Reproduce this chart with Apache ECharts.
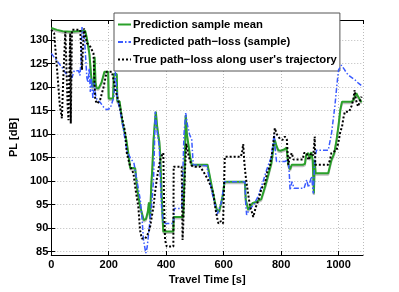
<!DOCTYPE html>
<html><head><meta charset="utf-8">
<script src="https://cdn.jsdelivr.net/npm/echarts@6/dist/echarts.min.js"></script>
<style>html,body{margin:0;padding:0;background:#fff}#c{width:399px;height:292px}</style>
</head><body><div id="c"></div>
<script>
const seriesNames = ["Prediction sample mean", "Predicted path\u2212loss (sample)", "True path\u2212loss along user's trajectory"];
const xTicks = [0, 200, 400, 600, 800, 1000];
const yTicks = [85, 90, 95, 100, 105, 110, 115, 120, 125, 130];

const meanPL = [[0,132.6],[20,132.2],[40,131.9],[70,131.8],[90,131.9],[118,132],[122,131],[128,129],[133,127],[138,123],[143,120],[148,120.5],[151,126.5],[154,121],[158,119.8],[165,119.8],[175,121],[185,123.3],[198,123.3],[200,117.6],[215,117.6],[218,122.8],[228,122.8],[230,117],[238,117],[242,115],[248,112.5],[255,110.5],[261,108.9],[268,106],[275,102.8],[292,102.8],[300,98],[310,94.5],[322,91.7],[330,92],[336,93.5],[340,95.5],[344,92],[348,99],[352,103],[356,108.8],[360,112],[364,114.8],[368,112],[372,110],[376,108.5],[379,106],[383,99],[387,93],[390,89.3],[425,89.3],[426,92.4],[459,92.4],[463,100],[466,108],[468,114.1],[472,110],[478,107.5],[484,105],[489,103.5],[544,103.5],[552,101],[560,98.5],[568,96],[576,94],[584,93.5],[590,95],[597,97],[603,99.9],[674,99.9],[677,96],[680,95.3],[686,93.9],[692,94.6],[700,95.3],[712,95.6],[731,96.2],[745,99],[756,101.5],[766,103.8],[772,106.5],[778,108.8],[784,107.5],[790,106.6],[800,106.5],[812,106.8],[819,107.2],[825,103.5],[831,102.5],[837,103.5],[860,103.5],[875,103.5],[883,103.7],[887,105.6],[895,106],[900,104.8],[905,106.2],[910,104.5],[914,97.4],[917,104.5],[920,101.7],[964,101.7],[975,104.5],[985,106],[993,108.8],[1000,112],[1006,115.2],[1012,116.9],[1045,116.9],[1052,117.3],[1056,118],[1062,118.7],[1068,118],[1075,117.3],[1080,116.8]];

const samplePL = [[0,127.2],[15,126],[30,124.8],[40,124],[50,123],[60,122.3],[72,122],[80,123.5],[95,123.5],[100,122.5],[104,126],[107,132.8],[112,132.5],[116,130],[120,126],[124,122],[128,121],[132,124],[136,119],[140,122],[145,117.5],[150,121],[155,118],[160,117.3],[170,116.8],[182,115.8],[193,115.2],[205,115.5],[211,116.6],[218,118],[223,123.3],[227,120],[231,117.3],[240,114.8],[250,111.5],[259,108],[264,106.3],[275,105],[288,103.8],[300,99.5],[310,96],[316,92],[321,87.5],[329,84.7],[334,86],[339,89],[344,91.8],[350,95.5],[356,100.3],[359,107],[362,114.8],[366,112],[371,109.5],[376,107.4],[380,100],[384,94.6],[390,91],[425,91],[428,94.2],[454,94.2],[458,102],[462,110],[468,114.5],[474,112],[481,110],[489,108.8],[494,103.5],[541,103.3],[550,100.5],[560,97.5],[570,95],[578,93],[584,92.8],[592,95.5],[603,99.9],[674,99.9],[677,95],[680,92.8],[686,93.6],[692,94.2],[705,95],[720,96.8],[735,99.5],[750,102.5],[766,105.2],[772,108],[776,110.2],[780,106.5],[784,104.2],[813,104.2],[825,104.6],[829,101],[831,98.1],[838,99.9],[845,98.5],[860,98.5],[880,98.5],[889,100.3],[895,98.7],[900,98.5],[906,101],[912,97.4],[917,104.6],[923,106.6],[964,106.6],[975,110],[987,115.9],[995,121],[1000,123.7],[1010,124.7],[1020,123.8],[1028,123],[1040,122.3],[1058,121.5],[1070,120.8],[1085,120.1]];

const truePL = [[0,132.2],[10,131.5],[20,124],[30,116],[37,113.4],[42,122],[49,131.8],[53,124],[57,116],[60,113],[63,123],[66,131.5],[68,112.3],[70,122],[72,132.2],[85,132.2],[101,132.2],[104,128],[107,123.7],[110,128],[114,132.5],[118,132.5],[124,129.4],[136,128.6],[147,127.2],[150,122],[153,117.3],[160,116.5],[170,117.3],[182,120],[193,123.3],[211,123.3],[217,121.5],[223,119.4],[232,117.5],[240,115.5],[248,113],[257,110.5],[263,106],[269,104.5],[275,103.1],[286,101.7],[294,98],[303,94.6],[309,89.6],[315,87.8],[321,87.5],[327,87.8],[333,88.2],[338,89],[344,90.3],[350,92.5],[356,94.6],[361,97.5],[367,100.3],[373,102.5],[379,104.5],[385,105.5],[390,106],[393,94.6],[396,87.5],[402,86.1],[425,86.1],[426,103.1],[454,103.1],[457,87.5],[459,90],[462,96],[466,103],[470,108],[476,106],[482,104.5],[489,103.3],[500,103.1],[518,103.1],[530,102],[544,100.5],[555,99],[564,97.4],[572,94],[578,92],[582,91],[590,91.5],[598,91],[603,91],[604,105.2],[640,105.2],[660,105.2],[665,106.5],[668,107.9],[672,104],[676,101.5],[680,99.5],[686,97],[692,94.6],[698,93.5],[703,92.4],[712,94.5],[721,96],[732,98.5],[744,99.6],[752,102],[761,103.1],[766,105],[772,107.4],[778,111.3],[785,110],[796,109],[805,108.8],[813,109.5],[820,108.8],[825,103.5],[830,105],[837,106],[843,104.6],[848,104.6],[860,104.6],[875,104.6],[880,106],[889,106],[895,104.5],[900,104.5],[905,106],[912,105.5],[917,109.5],[919,103.5],[923,103.5],[964,103.5],[970,104.5],[975,106],[993,106.6],[1000,108.5],[1006,110.5],[1012,111.6],[1017,113.5],[1022,114.8],[1037,114.8],[1045,116],[1051,117.3],[1056,119.4],[1060,117.5],[1064,116.5],[1068,115.9],[1074,117],[1080,118]];

const FONT = 'Liberation Sans';
const chart = echarts.init(document.getElementById('c'), null, {renderer: 'canvas'});
const X_MIN = 0, X_MAX = 1085, Y_MIN = 84.3, Y_MAX = 134.3;
const lbl = {color: '#000', fontFamily: FONT, fontWeight: 'bold', fontSize: 11};
const grid = {show: true, lineStyle: {color: '#bbb', type: [1, 2], width: 1}};
chart.setOption({
  animation: false,
  backgroundColor: '#fff',
  grid: {left: 51, right: 36, top: 20, bottom: 37},
  legend: {
    orient: 'vertical', left: 114, top: 13, width: 226,
    padding: [6, 3, 6, 3], itemGap: 6.5, itemWidth: 13, itemHeight: 11,
    backgroundColor: '#fff', borderColor: '#555', borderWidth: 1,
    itemStyle: {opacity: 0},
    textStyle: Object.assign({}, lbl, {fontSize: 11.3, padding: [0, 0, 0, -3]}),
    data: seriesNames
  },
  xAxis: [{
    type: 'value', min: X_MIN, max: X_MAX, interval: 200, position: 'bottom',
    name: 'Travel Time [s]', nameLocation: 'middle', nameGap: 17,
    nameTextStyle: lbl,
    axisLine: {show: true, lineStyle: {color: '#000', width: 1}},
    axisTick: {show: true, inside: true, length: 4, lineStyle: {color: '#000'}},
    axisLabel: Object.assign({}, lbl, {margin: 4, showMaxLabel: false, formatter: v => String(v)}),
    splitLine: grid
  }, {
    type: 'value', min: X_MIN, max: X_MAX, interval: 200, position: 'top',
    axisLine: {show: true, lineStyle: {color: '#000', width: 1}},
    axisTick: {show: true, inside: true, length: 4, lineStyle: {color: '#000'}},
    axisLabel: {show: false}, splitLine: {show: false}
  }],
  yAxis: [{
    type: 'value', min: Y_MIN, max: Y_MAX, position: 'left',
    name: 'PL [dB]', nameLocation: 'middle', nameGap: 25, nameRotate: 90,
    nameTextStyle: lbl,
    axisLine: {show: true, lineStyle: {color: '#000', width: 1}},
    axisTick: {show: true, inside: true, length: 4, lineStyle: {color: '#000'}, customValues: yTicks},
    axisLabel: Object.assign({}, lbl, {margin: 3, customValues: yTicks}),
    splitLine: grid
  }, {
    type: 'value', min: Y_MIN, max: Y_MAX, position: 'right',
    axisLine: {show: true, lineStyle: {color: '#000', width: 1}},
    axisTick: {show: true, inside: true, length: 4, lineStyle: {color: '#000'}, customValues: yTicks},
    axisLabel: {show: false}, splitLine: {show: false}
  }],
  series: [{
    name: seriesNames[0], type: 'line', data: meanPL, symbol: 'none', z: 3,
    lineStyle: {color: '#2aa02a', width: 2, shadowColor: 'rgba(150,150,150,0.6)', shadowOffsetY: 1.5},
    itemStyle: {color: '#2aa02a'}
  }, {
    name: seriesNames[1], type: 'line', data: samplePL, symbol: 'none', z: 4,
    lineStyle: {color: '#3b5bff', width: 1.5, type: [5, 2, 1.5, 2]},
    itemStyle: {color: '#3b5bff'}
  }, {
    name: seriesNames[2], type: 'line', data: truePL, symbol: 'none', z: 5,
    lineStyle: {color: '#000', width: 2, type: [2, 2]},
    itemStyle: {color: '#000'}
  }]
});
</script></body></html>
